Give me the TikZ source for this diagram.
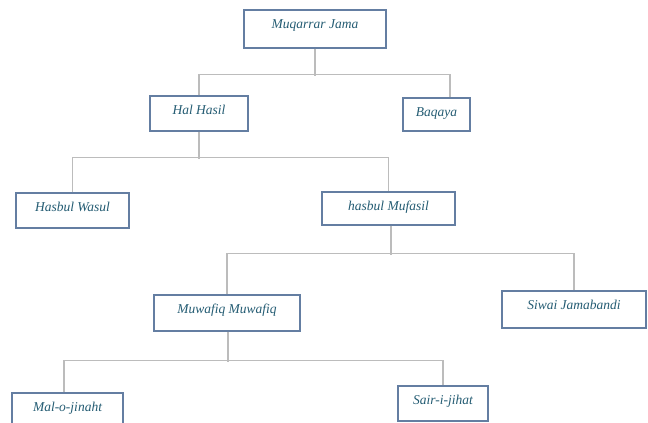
\documentclass[tikz,border=0pt]{standalone}
\usepackage{fontspec}
\setmainfont{Liberation Serif}
\definecolor{bxborder}{RGB}{100,126,162}
\definecolor{bxtext}{RGB}{36,92,115}
\definecolor{lncol}{RGB}{188,188,188}
\tikzset{
  bx/.style n args={3}{draw=bxborder, line width=1.4pt, fill=white, inner sep=0pt,
    minimum width=#1pt, minimum height=#2pt, text height=9pt, text depth=#3pt,
    font=\fontsize{13.5}{16}\selectfont\itshape, text=bxtext},
  ln/.style={draw=lncol, line width=1.3pt}
}
\begin{document}
\begin{tikzpicture}[x=1pt,y=-1pt]
\useasboundingbox (0,0) rectangle (648,423);
\clip (0,0) rectangle (648,423);
\fill[white] (0,0) rectangle (648,423);
\node[bx={142}{38}{11}] (mj) at (315,29) {Muqarrar Jama};
\node[bx={98}{35}{8}] (hh) at (199,113.5) {Hal Hasil};
\node[bx={67}{33}{6}] (bq) at (436.5,114.5) {Baqaya};
\node[bx={113}{35}{8}] (hw) at (72.5,210.5) {Hasbul Wasul};
\node[bx={133}{33}{6}] (hm) at (388.5,208.5) {hasbul Mufasil};
\node[bx={146}{36}{9}] (mm) at (227,313) {Muwafiq Muwafiq};
\node[bx={144}{37}{10}] (sj) at (574,309.5) {Siwai Jamabandi};
\node[bx={111}{35}{8}] (mo) at (67.5,410.5) {Mal-o-jinaht};
\node[bx={90}{35}{8}] (si) at (443,403.5) {Sair-i-jihat};
% level 1
\draw[ln] (mj.south) -- ++(0,27);
\draw[ln] (hh.north) -- ++(0,-21) -| ([xshift=13.5pt]bq.north);
% level 2
\draw[ln] (hh.south) -- ++(0,27);
\draw[ln] (hw.north) -- ++(0,-35) -| (hm.north);
% level 3
\draw[ln] ([xshift=2.5pt]hm.south) -- ++(0,29);
\draw[ln] (mm.north) -- ++(0,-41) -| (sj.north);
% level 4
\draw[ln] ([xshift=1pt]mm.south) -- ++(0,30);
\draw[ln] ([xshift=-3.5pt]mo.north) -- ++(0,-32) -| (si.north);
\end{tikzpicture}
\end{document}
